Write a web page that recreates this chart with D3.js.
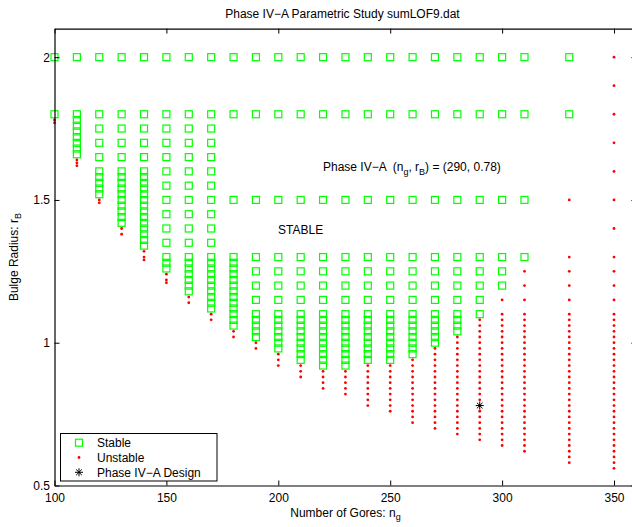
<!DOCTYPE html>
<html>
<head>
<meta charset="utf-8">
<script src="https://cdn.jsdelivr.net/npm/d3@7"></script>
<style>
  html, body { margin: 0; padding: 0; background: #fff; }
  svg { display: block; font-family: "Liberation Sans", Arial, Helvetica, sans-serif; }
</style>
</head>
<body>
<svg id="chart" width="632" height="527"></svg>
<script>
// Number of gores in each column of the parametric sweep
const gores = [100, 110, 120, 130, 140, 150, 160, 170, 180, 190, 200, 210, 220,
               230, 240, 250, 260, 270, 280, 290, 300, 310, 330, 350];

// Bulge radii found stable for each gore count
const stableRadii = [
  [2.0, 1.8],
  [2.0, 1.8, 1.78, 1.76, 1.74, 1.72, 1.70, 1.68, 1.66],
  [2.0, 1.8, 1.75, 1.7, 1.65, 1.6, 1.58, 1.56, 1.54, 1.52],
  [2.0, 1.8, 1.75, 1.7, 1.65, 1.6, 1.58, 1.56, 1.54, 1.52, 1.5, 1.48, 1.46, 1.44, 1.42],
  [2.0, 1.8, 1.75, 1.7, 1.65, 1.6, 1.58, 1.56, 1.54, 1.52, 1.5, 1.48, 1.46, 1.44, 1.42, 1.4, 1.38, 1.36, 1.34],
  [2.0, 1.8, 1.75, 1.7, 1.65, 1.6, 1.55, 1.5, 1.45, 1.4, 1.35, 1.3, 1.28, 1.26],
  [2.0, 1.8, 1.75, 1.7, 1.65, 1.6, 1.55, 1.5, 1.45, 1.4, 1.35, 1.3, 1.28, 1.26, 1.24, 1.22, 1.2, 1.18],
  [2.0, 1.8, 1.75, 1.7, 1.65, 1.6, 1.55, 1.5, 1.45, 1.4, 1.35, 1.3, 1.28, 1.26, 1.24, 1.22, 1.2, 1.18, 1.16, 1.14, 1.12],
  [2.0, 1.8, 1.5, 1.3, 1.28, 1.26, 1.24, 1.22, 1.2, 1.18, 1.16, 1.14, 1.12, 1.1, 1.08, 1.06],
  [2.0, 1.8, 1.5, 1.3, 1.25, 1.2, 1.15, 1.1, 1.08, 1.06, 1.04, 1.02],
  [2.0, 1.8, 1.5, 1.3, 1.25, 1.2, 1.15, 1.1, 1.08, 1.06, 1.04, 1.02, 1.0, 0.98],
  [2.0, 1.8, 1.5, 1.3, 1.25, 1.2, 1.15, 1.1, 1.08, 1.06, 1.04, 1.02, 1.0, 0.98, 0.96, 0.94],
  [2.0, 1.8, 1.5, 1.3, 1.25, 1.2, 1.15, 1.1, 1.08, 1.06, 1.04, 1.02, 1.0, 0.98, 0.96, 0.94, 0.92],
  [2.0, 1.8, 1.5, 1.3, 1.25, 1.2, 1.15, 1.1, 1.08, 1.06, 1.04, 1.02, 1.0, 0.98, 0.96, 0.94, 0.92],
  [2.0, 1.8, 1.5, 1.3, 1.25, 1.2, 1.15, 1.1, 1.08, 1.06, 1.04, 1.02, 1.0, 0.98, 0.96, 0.94],
  [2.0, 1.8, 1.5, 1.3, 1.25, 1.2, 1.15, 1.1, 1.08, 1.06, 1.04, 1.02, 1.0, 0.98, 0.96, 0.94],
  [2.0, 1.8, 1.5, 1.3, 1.25, 1.2, 1.15, 1.1, 1.08, 1.06, 1.04, 1.02, 1.0, 0.98, 0.96],
  [2.0, 1.8, 1.5, 1.3, 1.25, 1.2, 1.15, 1.1, 1.08, 1.06, 1.04, 1.02, 1.0],
  [2.0, 1.8, 1.5, 1.3, 1.25, 1.2, 1.15, 1.1, 1.08, 1.06, 1.04],
  [2.0, 1.8, 1.5, 1.3, 1.25, 1.2, 1.15, 1.1],
  [2.0, 1.8, 1.5, 1.3, 1.25, 1.2],
  [2.0, 1.8, 1.5, 1.3],
  [2.0, 1.8],
  []
];

// Bulge radii found unstable for each gore count
const unstableRadii = [
  [1.78, 1.77],
  [1.64, 1.63, 1.62],
  [1.5, 1.49],
  [1.4, 1.38],
  [1.32, 1.3, 1.29],
  [1.24, 1.22, 1.21],
  [1.16, 1.14],
  [1.1, 1.08],
  [1.04, 1.02],
  [1.0, 0.98],
  [0.96, 0.94, 0.92],
  [0.92, 0.9, 0.88],
  [0.9, 0.88, 0.86, 0.84],
  [0.9, 0.88, 0.86, 0.84, 0.82],
  [0.92, 0.9, 0.88, 0.86, 0.84, 0.82, 0.8, 0.78],
  [0.92, 0.9, 0.88, 0.86, 0.84, 0.82, 0.8, 0.78, 0.76],
  [0.94, 0.92, 0.9, 0.88, 0.86, 0.84, 0.82, 0.8, 0.78, 0.76, 0.74, 0.72],
  [0.98, 0.96, 0.94, 0.92, 0.9, 0.88, 0.86, 0.84, 0.82, 0.8, 0.78, 0.76, 0.74, 0.72, 0.7],
  [1.02, 1.0, 0.98, 0.96, 0.94, 0.92, 0.9, 0.88, 0.86, 0.84, 0.82, 0.8, 0.78, 0.76, 0.74, 0.72, 0.7, 0.68],
  [1.08, 1.06, 1.04, 1.02, 1.0, 0.98, 0.96, 0.94, 0.92, 0.9, 0.88, 0.86, 0.84, 0.82, 0.8, 0.78, 0.76, 0.74, 0.72, 0.7, 0.68, 0.66],
  [1.15, 1.1, 1.08, 1.06, 1.04, 1.02, 1.0, 0.98, 0.96, 0.94, 0.92, 0.9, 0.88, 0.86, 0.84, 0.82, 0.8, 0.78, 0.76, 0.74, 0.72, 0.7, 0.68, 0.66, 0.64],
  [1.25, 1.2, 1.15, 1.1, 1.08, 1.06, 1.04, 1.02, 1.0, 0.98, 0.96, 0.94, 0.92, 0.9, 0.88, 0.86, 0.84, 0.82, 0.8, 0.78, 0.76, 0.74, 0.72, 0.7, 0.68, 0.66, 0.64, 0.62],
  [1.5, 1.3, 1.25, 1.2, 1.15, 1.1, 1.08, 1.06, 1.04, 1.02, 1.0, 0.98, 0.96, 0.94, 0.92, 0.9, 0.88, 0.86, 0.84, 0.82, 0.8, 0.78, 0.76, 0.74, 0.72, 0.7, 0.68, 0.66, 0.64, 0.62, 0.6, 0.58],
  [2.0, 1.9, 1.8, 1.7, 1.6, 1.5, 1.4, 1.3, 1.25, 1.2, 1.15, 1.1, 1.08, 1.06, 1.04, 1.02, 1.0, 0.98, 0.96, 0.94, 0.92, 0.9, 0.88, 0.86, 0.84, 0.82, 0.8, 0.78, 0.76, 0.74, 0.72, 0.7, 0.68, 0.66, 0.64, 0.62, 0.6, 0.58, 0.56]
];

// Selected design (n_g, r_B)
const designGores = 290;
const designRadius = 0.78;

const xTicks = [100, 150, 200, 250, 300, 350];
const yTicks = [0.5, 1, 1.5, 2];
const xDomain = [100, 360];
const yDomain = [0.5, 2.1];

const titleText = "Phase IV\u2212A Parametric Study sumLOF9.dat";
const legendLabels = ["Stable", "Unstable", "Phase IV\u2212A Design"];

// ---- layout ----
const svg = d3.select("#chart");
const plotLeft = 54.5, plotRight = 636.4, plotTop = 28.6, plotBottom = 485.5;

const x = d3.scaleLinear().domain(xDomain).range([plotLeft, plotRight]);
const y = d3.scaleLinear().domain(yDomain).range([plotBottom, plotTop]);

const GREEN = "#00ff00", RED = "#ff0000";
const SQ = 7; // square marker edge

// flatten points from the per-column arrays
const stablePts = gores.flatMap((g, i) => stableRadii[i].map(r => ({ g, r })));
const unstablePts = gores.flatMap((g, i) => unstableRadii[i].map(r => ({ g, r })));

svg.append("rect").attr("x", 0).attr("y", 0).attr("width", 632).attr("height", 527).attr("fill", "#fff");

const marks = svg.append("g");

marks.selectAll("rect.stable")
  .data(stablePts)
  .join("rect")
  .attr("class", "stable")
  .attr("x", d => x(d.g) - SQ / 2)
  .attr("y", d => y(d.r) - SQ / 2)
  .attr("width", SQ)
  .attr("height", SQ)
  .attr("fill", "none")
  .attr("stroke", GREEN)
  .attr("stroke-width", 1.2);

marks.selectAll("circle.unstable")
  .data(unstablePts)
  .join("circle")
  .attr("class", "unstable")
  .attr("cx", d => x(d.g))
  .attr("cy", d => y(d.r))
  .attr("r", 1.4)
  .attr("fill", RED);

// asterisk marker: plus + cross
function asterisk(cx, cy, s) {
  const p = d3.path();
  const d = s * 0.7071;
  p.moveTo(cx - s, cy); p.lineTo(cx + s, cy);
  p.moveTo(cx, cy - s); p.lineTo(cx, cy + s);
  p.moveTo(cx - d, cy - d); p.lineTo(cx + d, cy + d);
  p.moveTo(cx - d, cy + d); p.lineTo(cx + d, cy - d);
  return p.toString();
}

marks.append("path")
  .attr("d", asterisk(x(designGores), y(designRadius), 4))
  .attr("stroke", "#000")
  .attr("stroke-width", 1)
  .attr("fill", "none");

// ---- axes ----
const fontSize = 12;
function styleAxis(g) {
  g.selectAll("path.domain").attr("stroke", "#000").attr("stroke-width", 1.2);
  g.selectAll(".tick line").attr("stroke", "#000").attr("stroke-width", 1);
  g.selectAll(".tick text").attr("fill", "#000").attr("font-size", fontSize)
    .attr("font-family", "'Liberation Sans', Arial, Helvetica, sans-serif");
}

svg.append("g")
  .attr("transform", `translate(0,${plotBottom})`)
  .call(d3.axisBottom(x).tickValues(xTicks).tickFormat(d3.format("d")).tickSize(-5).tickSizeOuter(0).tickPadding(8))
  .call(styleAxis);

svg.append("g")
  .attr("transform", `translate(0,${plotTop})`)
  .call(d3.axisTop(x).tickValues(xTicks).tickFormat("").tickSize(-5).tickSizeOuter(0))
  .call(styleAxis);

svg.append("g")
  .attr("transform", `translate(${plotLeft},0)`)
  .call(d3.axisLeft(y).tickValues(yTicks).tickFormat(d3.format("")).tickSize(-5).tickSizeOuter(0).tickPadding(4.5))
  .call(styleAxis);

svg.append("g")
  .attr("transform", `translate(${plotRight},0)`)
  .call(d3.axisRight(y).tickValues(yTicks).tickFormat("").tickSize(-5).tickSizeOuter(0))
  .call(styleAxis);

// ---- titles ----
const midX = (plotLeft + plotRight) / 2;
const midY = (plotTop + plotBottom) / 2;

svg.append("text")
  .attr("x", midX - 3).attr("y", 18)
  .attr("text-anchor", "middle")
  .attr("font-size", fontSize)
  .text(titleText);

const xl = svg.append("text")
  .attr("x", midX).attr("y", 516.5)
  .attr("text-anchor", "middle")
  .attr("font-size", fontSize);
xl.append("tspan").text("Number of Gores: n");
xl.append("tspan").attr("font-size", 9).attr("dy", 3).text("g");

const yl = svg.append("text")
  .attr("transform", `translate(18,${midY}) rotate(-90)`)
  .attr("text-anchor", "middle")
  .attr("font-size", fontSize);
yl.append("tspan").text("Bulge Radius: r");
yl.append("tspan").attr("font-size", 9).attr("dy", 3).text("B");

// ---- annotations ----
const ann = svg.append("text")
  .attr("x", 323).attr("y", 171)
  .attr("font-size", fontSize)
  .style("white-space", "pre");
ann.append("tspan").text("Phase IV\u2212A  (n");
ann.append("tspan").attr("font-size", 9).attr("dy", 4).text("g");
ann.append("tspan").attr("dy", -4).text(", r");
ann.append("tspan").attr("font-size", 9).attr("dy", 4).text("B");
ann.append("tspan").attr("dy", -4).text(") = (290, 0.78)");

svg.append("text")
  .attr("x", 278).attr("y", 234)
  .attr("font-size", fontSize)
  .text("STABLE");

// ---- legend ----
const lg = svg.append("g");
lg.append("rect")
  .attr("x", 60.5).attr("y", 433.5).attr("width", 156.5).attr("height", 47.5)
  .attr("fill", "#fff").attr("stroke", "#000").attr("stroke-width", 1);

const rowY = [442.7, 457.5, 472.3];
const mx = 79;
lg.append("rect")
  .attr("x", mx - SQ / 2).attr("y", rowY[0] - SQ / 2)
  .attr("width", SQ).attr("height", SQ)
  .attr("fill", "none").attr("stroke", GREEN).attr("stroke-width", 1.2);
lg.append("circle").attr("cx", mx).attr("cy", rowY[1]).attr("r", 1.4).attr("fill", RED);
lg.append("path").attr("d", asterisk(mx, rowY[2], 4))
  .attr("stroke", "#000").attr("stroke-width", 1).attr("fill", "none");

lg.selectAll("text.leg")
  .data(legendLabels)
  .join("text")
  .attr("class", "leg")
  .attr("x", 97)
  .attr("y", (d, i) => rowY[i] + 4.3)
  .attr("font-size", fontSize)
  .text(d => d);
</script>
</body>
</html>
